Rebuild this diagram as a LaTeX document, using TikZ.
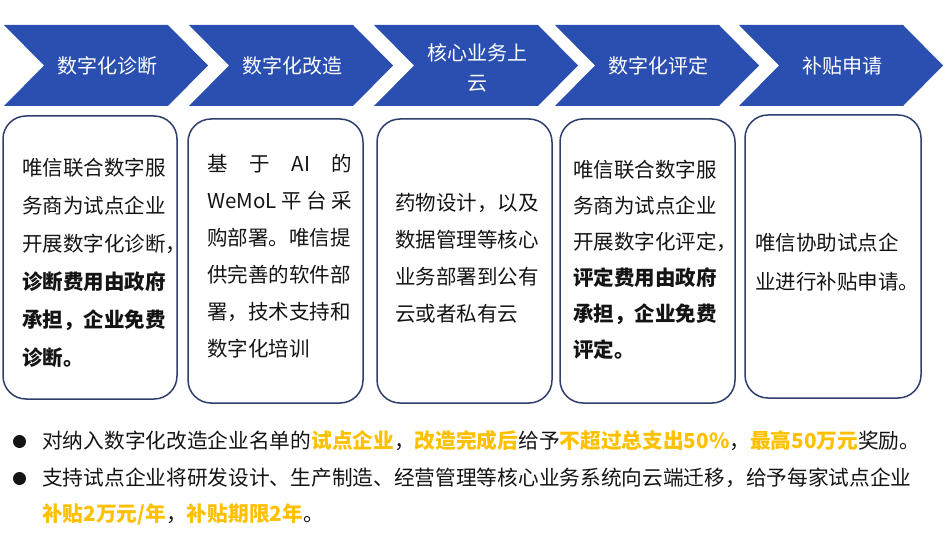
\documentclass[tikz,border=0pt]{standalone}
\usepackage{fontspec}
\setmainfont{Noto Sans CJK SC}
\definecolor{chevblue}{RGB}{42,79,176}
\definecolor{cardline}{RGB}{47,62,107}
\definecolor{txt}{RGB}{20,20,20}
\definecolor{gold}{RGB}{255,192,0}
\newcommand\yel[1]{\textcolor{gold}{\textbf{#1}}}
\begin{document}
\begin{tikzpicture}[x=1pt,y=-1pt,
  chev/.style={fill=chevblue},
  chevtext/.style={text=white,font=\fontsize{20}{30}\selectfont,align=center,inner sep=0pt},
  card/.style={draw=cardline,line width=1.5pt,rounded corners=23pt,inner sep=0pt},
  cardtext/.style={anchor=west,align=left,inner sep=0pt,text=txt},
  dot/.style={circle,fill=txt,inner sep=0pt,minimum size=13pt},
  bul/.style={anchor=west,inner sep=0pt,text=txt,font=\fontsize{20.7}{25}\selectfont}]
\useasboundingbox (0,0) rectangle (945,540);
% chevrons
\foreach \x in {4,189,374,555,739}{
  \fill[chev] (\x,25) -- (\x+164,25) -- (\x+204,65.5) -- (\x+164,106) -- (\x,106) -- (\x+40,65.5) -- cycle;
}
\node[chevtext] (c1) at (107,66) {数字化诊断};
\node[chevtext] (c2) at (292,66) {数字化改造};
\node[chevtext] (c3) at (477,68) {核心业务上\\云};
\node[chevtext] (c4) at (658,66) {数字化评定};
\node[chevtext] (c5) at (842,66) {补贴申请};
% cards
\node[card,minimum width=174pt,minimum height=283pt] (b1) at (90,257.5) {};
\node[card,minimum width=175pt,minimum height=284pt] (b2) at (275.5,261) {};
\node[card,minimum width=175pt,minimum height=284pt] (b3) at (464.5,261) {};
\node[card,minimum width=175pt,minimum height=284pt] (b4) at (647.5,261) {};
\node[card,minimum width=176pt,minimum height=283pt] (b5) at (833,256.5) {};
% card texts
\node[cardtext,font=\fontsize{20.5}{38}\selectfont] (t1) at (22,263)
  {唯信联合数字服\\务商为试点企业\\开展数字化诊断，\\\textbf{诊断费用由政府}\\\textbf{承担，企业免费}\\\textbf{诊断。}};
\node[cardtext,font=\fontsize{20.5}{37}\selectfont] (t2) at (207,256)
  {\makebox[145pt][l]{基\hfill 于\hfill AI\hfill 的}\\\makebox[145pt][l]{WeMoL\hfill 平\hfill 台\hfill 采}\\购部署。唯信提\\供完善的软件部\\署，技术支持和\\数字化培训};
\node[cardtext,font=\fontsize{20.5}{37}\selectfont] (t3) at (395,258)
  {药物设计，以及\\数据管理等核心\\业务部署到公有\\云或者私有云};
\node[cardtext,font=\fontsize{20.5}{36}\selectfont] (t4) at (573,260)
  {唯信联合数字服\\务商为试点企业\\开展数字化评定，\\\textbf{评定费用由政府}\\\textbf{承担，企业免费}\\\textbf{评定。}};
\node[cardtext,font=\fontsize{20.5}{39}\selectfont] (t5) at (755,262)
  {唯信协助试点企\\业进行补贴申请。};
% bullets
\node[dot] (d1) at (19.5,441.5) {};
\node[dot] (d2) at (19.5,478.5) {};
\node[bul] (l1) at (42,441) {对纳入数字化改造企业名单的\yel{试点企业}，\yel{改造完成后}给予\yel{不超过总支出50\%}，\yel{最高50万元}奖励。};
\node[bul] (l2) at (42,478) {支持试点企业将研发设计、生产制造、经营管理等核心业务系统向云端迁移，给予每家试点企业};
\node[bul] (l3) at (42,515) {\yel{补贴2万元/年}，\yel{补贴期限2年}。};
\end{tikzpicture}
\end{document}
